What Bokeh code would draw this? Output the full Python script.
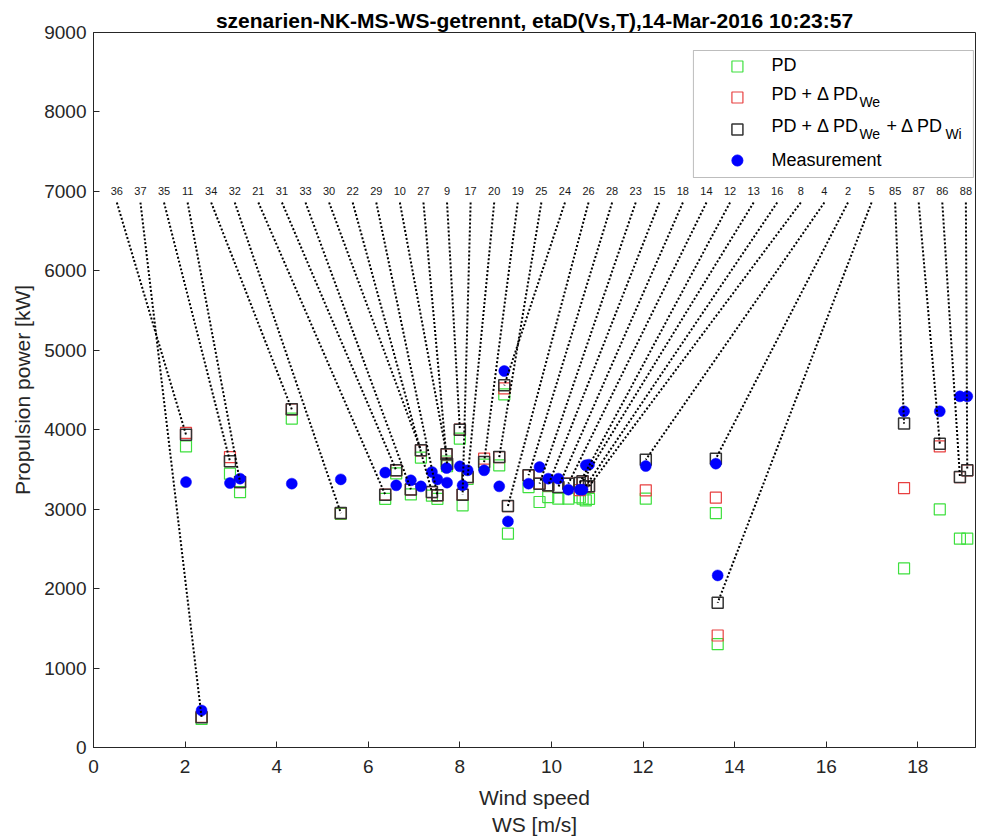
import numpy as np
from bokeh.plotting import figure
from bokeh.models import Range1d, FixedTicker, BoxAnnotation
from bokeh.core.properties import value
from bokeh.embed import file_html
from bokeh.resources import INLINE

# ---------------- data (sorted by wind speed) ----------------
ws = [2.02, 2.36, 2.98, 3.20, 4.33, 5.40, 6.37, 6.61, 6.93, 7.15, 7.39, 7.51,
      7.71, 7.72, 8.00, 8.06, 8.17, 8.53, 8.86, 8.97, 9.05, 9.50, 9.74, 9.93,
      10.15, 10.37, 10.62, 10.68, 10.75, 10.82, 12.06, 13.59, 13.63,
      17.70, 18.48, 18.92, 19.08]
pd_base = [3790, 360, 3447, 3215, 4140, 2940, 3130, 3450, 3186, 3650, 3170, 3130,
           3600, 3540, 3888, 3048, 3380, 3560, 3552, 4446, 2691, 3278, 3090, 3152,
           3132, 3132, 3150, 3132, 3110, 3130, 3132, 2951, 1300,
           2254, 2997, 2628, 2628]
pd_we = [3960, 385, 3656, 3341, 4257, 2951, 3183, 3489, 3249, 3741, 3215, 3174,
         3690, 3573, 4001, 3183, 3404, 3636, 3656, 4520, 3039, 3426, 3321, 3300,
         3279, 3321, 3240, 3350, 3290, 3287, 3237, 3145, 1410,
         3266, 3790, 3404, 3489]
pd_total = [3938, 382, 3602, 3341, 4257, 2951, 3183, 3489, 3249, 3741, 3215, 3174,
            3690, 3573, 4001, 3183, 3404, 3593, 3656, 4559, 3039, 3426, 3321, 3300,
            3279, 3321, 3330, 3350, 3290, 3287, 3623, 3636, 1822,
            4077, 3825, 3404, 3489]
measurement = [3341, 466, 3329, 3384, 3321, 3375, 3460, 3300, 3363, 3287, 3468, 3375,
               3518, 3334, 3539, 3300, 3489, 3489, 3287, 4739, 2846, 3321, 3530, 3384,
               3384, 3245, 3245, 3245, 3552, 3560, 3543, 3573, 2166,
               4232, 4232, 4420, 4420]
run_ids = [36, 37, 35, 11, 34, 32, 21, 31, 33, 30, 22, 29, 10, 27, 9, 17, 20, 19,
           25, 24, 26, 28, 23, 15, 18, 14, 12, 13, 16, 8, 4, 2, 5, 85, 87, 86, 88]
x_ticks = [0, 2, 4, 6, 8, 10, 12, 14, 16, 18]
y_ticks = [0, 1000, 2000, 3000, 4000, 5000, 6000, 7000, 8000, 9000]

TITLE = "szenarien-NK-MS-WS-getrennt, etaD(Vs,T),14-Mar-2016 10:23:57"

# ---------------- layout ----------------
FONT = "Liberation Sans"
AX = "#262626"
GREEN = "#3ee03e"
RED = "#e84040"
XMAX = 19.26
YMAX = 9000
FL, FT, FB = 93, 32, 747          # frame left/top/bottom in page px
SX = 45.8                          # px per m/s
FW = int(round(SX * XMAX))
FH = FB - FT
SY = FH / YMAX

def X(px):
    return (px - FL) / SX

def Y(py):
    return (FB - py) / SY

p = figure(frame_width=FW, frame_height=FH,
           x_range=Range1d(0, XMAX), y_range=Range1d(0, YMAX),
           output_backend="svg", toolbar_location=None,
           min_border_left=FL, min_border_top=FT,
           min_border_right=10, min_border_bottom=92,
           background_fill_color="white", border_fill_color="white")
p.outline_line_color = AX
p.outline_line_width = 1
p.xgrid.visible = False
p.ygrid.visible = False

p.title.text = TITLE
p.title.align = "center"
p.title.text_font = FONT
p.title.text_font_size = "21px"
p.title.text_font_style = "bold"
p.title.text_color = "black"
p.title.standoff = 2

for ax in (p.xaxis[0], p.yaxis[0]):
    ax.axis_line_color = AX
    ax.major_tick_line_color = AX
    ax.major_tick_in = 6
    ax.major_tick_out = 0
    ax.minor_tick_line_color = None
    ax.major_label_text_font = FONT
    ax.major_label_text_font_size = "19px"
    ax.major_label_text_color = AX
    ax.axis_label_text_font = FONT
    ax.axis_label_text_font_size = "21px"
    ax.axis_label_text_font_style = "normal"
    ax.axis_label_text_color = AX

p.xaxis[0].ticker = FixedTicker(ticks=x_ticks)
p.yaxis[0].ticker = FixedTicker(ticks=y_ticks)
p.xaxis[0].axis_label = "Wind speed\nWS [m/s]"
p.yaxis[0].axis_label = "Propulsion power [kW]"
p.xaxis[0].major_label_standoff = 12
p.yaxis[0].major_label_standoff = 7
p.xaxis[0].axis_label_standoff = 10
p.yaxis[0].axis_label_standoff = 7

# ---------------- marks ----------------
p.scatter(ws, pd_base, marker="square", size=11, fill_color=None,
          line_color=GREEN, line_width=1.2)
p.scatter(ws, pd_we, marker="square", size=11, fill_color=None,
          line_color=RED, line_width=1.2)
p.scatter(ws, pd_total, marker="square", size=11, fill_color=None,
          line_color="#333333", line_width=1.5)
p.scatter(ws, measurement, marker="circle", size=11, fill_color="#0000ff",
          line_color="#0000ff", line_width=0.5)

n = len(run_ids)
label_x = list(np.linspace(0.51, 19.05, n))
label_y = 7000
line_y0 = 6860
p.segment(x0=label_x, y0=[line_y0] * n, x1=ws, y1=pd_total,
          line_color="black", line_width=2, line_dash="2 2")
p.text(x=label_x, y=[label_y] * n, text=[str(r) for r in run_ids],
       text_align="center", text_baseline="middle", text_font_size="11px",
       text_font=value(FONT), text_color="#1a1a1a")

# ---------------- legend (drawn manually for subscripts) ----------------
box = BoxAnnotation(left=X(693), right=X(973), top=Y(50), bottom=Y(177),
                    fill_color="white", fill_alpha=1.0,
                    line_color=AX, line_width=1, level="underlay")
p.add_layout(box)
mx = X(737)
rows_y = [66, 97, 129, 160]
p.scatter([mx], [Y(rows_y[0])], marker="square", size=11, fill_color=None,
          line_color=GREEN, line_width=1.2)
p.scatter([mx], [Y(rows_y[1])], marker="square", size=11, fill_color=None,
          line_color=RED, line_width=1.2)
p.scatter([mx], [Y(rows_y[2])], marker="square", size=11, fill_color=None,
          line_color="#333333", line_width=1.5)
p.scatter([mx], [Y(rows_y[3])], marker="circle", size=11, fill_color="#0000ff",
          line_color="#0000ff")

def ltext(px, py, s, size="18px"):
    p.text(x=[X(px)], y=[Y(py)], text=[s], text_align="left",
           text_baseline="middle", text_font_size=size,
           text_font=value(FONT), text_color="black")

ltext(771, rows_y[0] - 2, "PD")
ltext(771, rows_y[1] - 4, "PD + \u0394 PD")
ltext(859, rows_y[1] + 4, "We", "14px")
ltext(771, rows_y[2] - 4, "PD + \u0394 PD")
ltext(859, rows_y[2] + 4, "We", "14px")
ltext(886, rows_y[2] - 4, "+ \u0394 PD")
ltext(945, rows_y[2] + 4, "Wi", "14px")
ltext(771, rows_y[3] - 1, "Measurement")

open("out.html", "w").write(file_html(p, INLINE))
